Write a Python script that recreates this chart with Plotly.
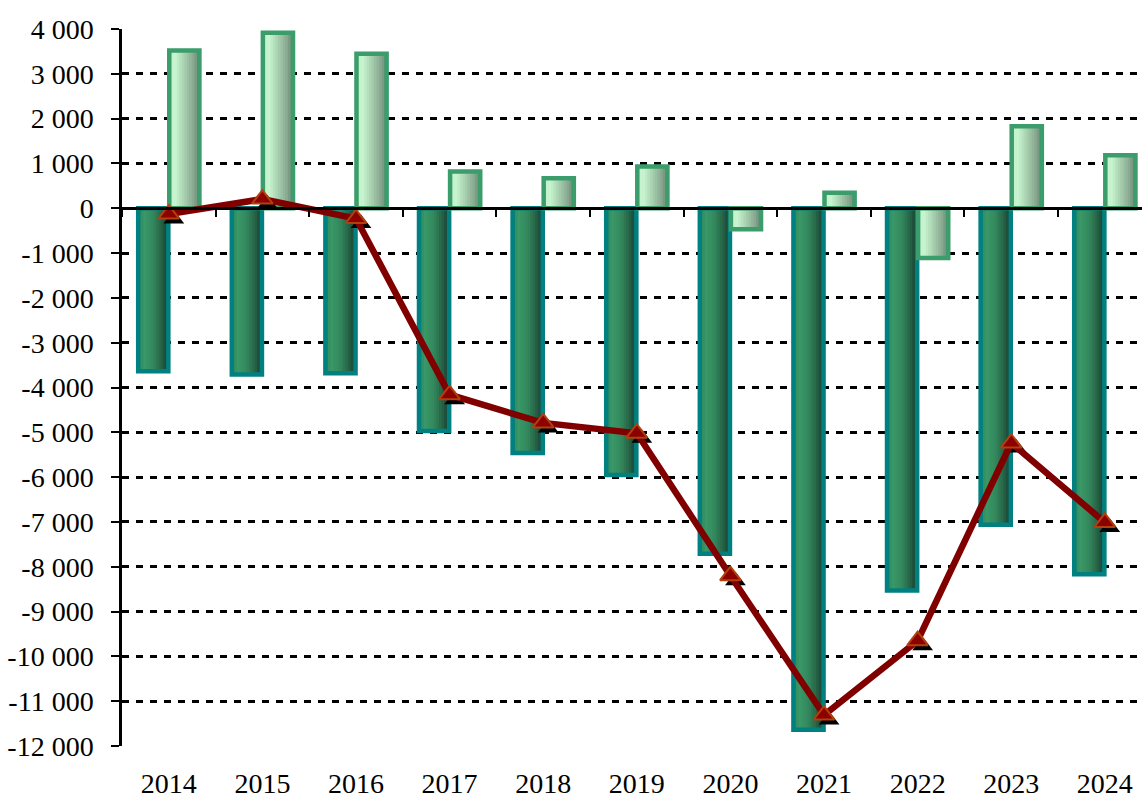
import plotly.graph_objects as go

years = ["2014", "2015", "2016", "2017", "2018", "2019", "2020", "2021", "2022", "2023", "2024"]
dark_vals = [-3640, -3710, -3680, -4970, -5460, -5950, -7710, -11640, -8530, -7060, -8170]
light_vals = [3520, 3915, 3450, 820, 670, 930, -470, 345, -1110, 1830, 1180]
line_vals = [-130, 205, -230, -4160, -4790, -5020, -8200, -11310, -9650, -5240, -7010]
ytick_vals = [4000, 3000, 2000, 1000, 0, -1000, -2000, -3000, -4000, -5000, -6000,
              -7000, -8000, -9000, -10000, -11000, -12000]
ytick_text = ["4 000", "3 000", "2 000", "1 000", "0", "-1 000", "-2 000", "-3 000", "-4 000",
              "-5 000", "-6 000", "-7 000", "-8 000", "-9 000", "-10 000", "-11 000", "-12 000"]

FONT = '"Liberation Serif", "Times New Roman", serif'
Y_RANGE = [-12000, 4000]
X_RANGE = [-0.5, 10.397]
PLOT_H = 717.0
CAT_W = 93.6

dark_stops = [(0.0, (0x2c, 0x85, 0x58)), (0.2, (0x3a, 0x98, 0x68)), (0.5, (0x33, 0x88, 0x5c)),
              (0.8, (0x24, 0x5e, 0x44)), (1.0, (0x1a, 0x3a, 0x2c))]
light_stops = [(0.0, (0xbf, 0xf0, 0xc8)), (0.2, (0xc8, 0xf5, 0xd0)), (0.5, (0xa8, 0xd0, 0xb0)),
               (0.8, (0x88, 0xa8, 0x90)), (1.0, (0x6a, 0x84, 0x70))]


def interp(stops, t):
    for (t0, c0), (t1, c1) in zip(stops[:-1], stops[1:]):
        if t0 <= t <= t1:
            f = (t - t0) / (t1 - t0) if t1 > t0 else 0
            c = [round(a + (b - a) * f) for a, b in zip(c0, c1)]
            return "rgb(%d,%d,%d)" % tuple(c)
    return "rgb(%d,%d,%d)" % stops[-1][1]


fig = go.Figure()

BW = 0.322
N = 12


def add_gradient_bar(values, offset, stops, border):
    sw = BW / N
    for i in range(N):
        w = sw * 2.0 if i < N - 1 else sw
        fig.add_trace(go.Bar(
            x=years, y=values, offset=offset + i * sw, width=w,
            marker=dict(color=interp(stops, (i + 0.5) / N), line=dict(width=0)),
            showlegend=False, hoverinfo="skip", xaxis="x", yaxis="y"))
    fig.add_trace(go.Bar(
        x=years, y=values, offset=offset, width=BW,
        marker=dict(color="rgba(0,0,0,0)", line=dict(color=border, width=4.5)),
        showlegend=False, xaxis="x", yaxis="y"))


add_gradient_bar(dark_vals, -0.166 - BW / 2, dark_stops, "#008080")
add_gradient_bar(light_vals, 0.166 - BW / 2, light_stops, "#3a9d6b")

# shadow of markers (shifted overlay axes)
dx = 5.0 / CAT_W
dy = 5.0 * (Y_RANGE[1] - Y_RANGE[0]) / PLOT_H
fig.add_trace(go.Scatter(
    x=years, y=line_vals, mode="markers",
    marker=dict(symbol="triangle-up", size=18, color="black", line=dict(width=0)),
    showlegend=False, hoverinfo="skip", xaxis="x2", yaxis="y2"))

# balance line
fig.add_trace(go.Scatter(
    x=years, y=line_vals, mode="lines+markers",
    line=dict(color="#800000", width=6.5),
    marker=dict(symbol="triangle-up", size=18, color="#8c0000", line=dict(color="#b0400c", width=2)),
    showlegend=False, xaxis="x3", yaxis="y"))

fig.update_layout(
    width=1142, height=800,
    margin=dict(l=122, r=0, t=29, b=54, autoexpand=False),
    paper_bgcolor="white", plot_bgcolor="white",
    barmode="overlay",
    font=dict(family=FONT, size=28, color="black"),
    xaxis=dict(type="category", range=X_RANGE, showline=False, showgrid=False, zeroline=False,
               automargin=False, ticks="", ticklabelstandoff=18,
               tickfont=dict(family=FONT, size=28, color="black")),
    yaxis=dict(range=Y_RANGE, tickvals=ytick_vals, ticktext=ytick_text, automargin=False,
               showline=True, linecolor="black", linewidth=2.5,
               ticks="outside", ticklen=8, tickwidth=2, tickcolor="black",
               ticklabelstandoff=12,
               showgrid=True, gridcolor="black", gridwidth=2.5, griddash="7px,7px",
               zeroline=False, tickfont=dict(family=FONT, size=28, color="black")),
    xaxis2=dict(type="category", overlaying="x", range=[X_RANGE[0] - dx, X_RANGE[1] - dx],
                visible=False),
    yaxis2=dict(overlaying="y", range=[Y_RANGE[0] + dy, Y_RANGE[1] + dy], visible=False),
    xaxis3=dict(type="category", overlaying="x", anchor="free",
                position=(0 - Y_RANGE[0]) / (Y_RANGE[1] - Y_RANGE[0]),
                range=X_RANGE, showline=True, linecolor="black", linewidth=2.5,
                ticks="outside", tickson="boundaries", ticklen=7, tickwidth=2, tickcolor="black",
                showticklabels=False, showgrid=False, zeroline=False, layer="above traces"),
)

fig.write_html("out.html", config={"displayModeBar": False},
               post_script="document.body.style.margin='0';document.body.style.overflow='hidden';")
